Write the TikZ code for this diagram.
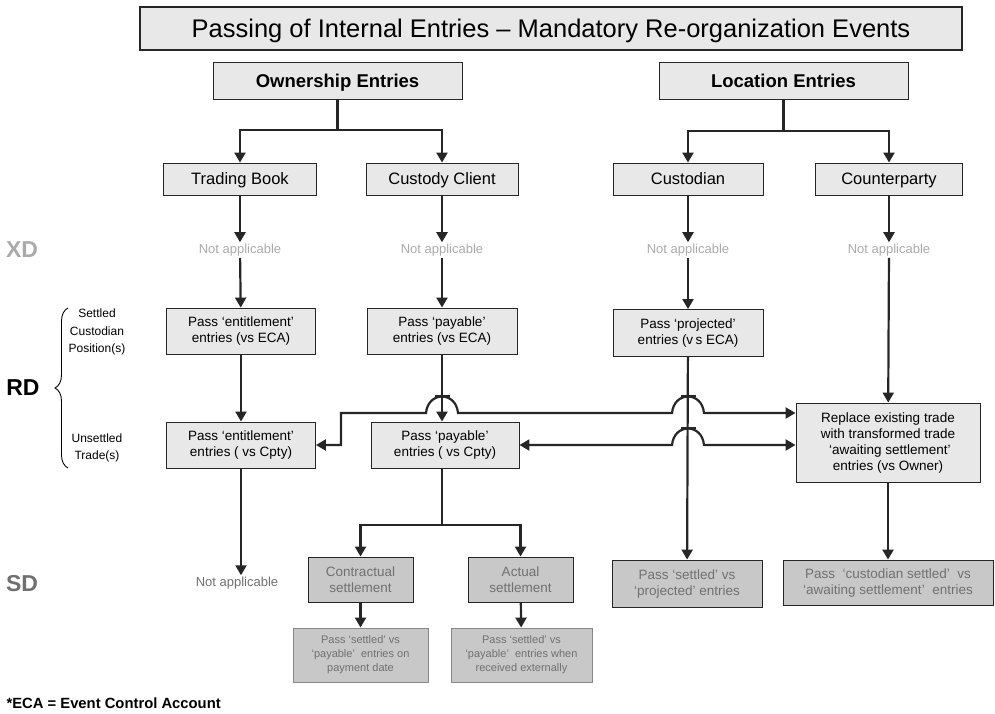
\documentclass[tikz,border=0pt]{standalone}
\usepackage{fontspec}
\setmainfont{Liberation Sans}
\usetikzlibrary{arrows.meta,decorations.pathreplacing}
\definecolor{boxgray}{RGB}{232,232,232}
\definecolor{sdgray}{RGB}{200,200,200}
\definecolor{txtgray}{RGB}{112,112,112}
\definecolor{nagray}{RGB}{170,170,170}
\definecolor{edgegray}{RGB}{135,135,135}
\tikzset{
  box/.style={draw=black!85,line width=0.9pt,fill=boxgray,align=center,inner sep=0pt,
    font=\fontsize{13.5}{16}\selectfont},
  headbox/.style={box,minimum width=249,minimum height=37,text height=14pt,text depth=1pt,
    font=\fontsize{18.5}{20}\selectfont\bfseries},
  leafbox/.style={box,minimum height=32,text height=12.5pt,text depth=1pt,
    font=\fontsize{16.5}{18}\selectfont},
  sdbox/.style={box,fill=sdgray,text=txtgray},
  subbox/.style={sdbox,draw=edgegray,font=\fontsize{11}{14}\selectfont},
  na/.style={inner sep=1.5pt,font=\fontsize{13}{15}\selectfont},
  lvl/.style={font=\fontsize{23}{26}\selectfont\bfseries},
  ln/.style={line width=2.2pt,draw=black!85},
  arr/.style={ln,-{Triangle[width=11pt,length=10pt]}},
  dblarr/.style={ln,{Triangle[width=11pt,length=10pt]}-{Triangle[width=11pt,length=10pt]}},
  bar/.style={line width=1.6pt,draw=black!85}
}
\begin{document}
\begin{tikzpicture}[x=1pt,y=-1pt]
\useasboundingbox (0,0) rectangle (995,713);

\node[draw=black!85,line width=2.4pt,fill=boxgray,minimum width=822,minimum height=43,inner sep=0pt,
  text height=19pt,text depth=1pt,font=\fontsize{25.5}{28}\selectfont] (title) at (551,28.5) {Passing of Internal Entries – Mandatory Re-organization Events};

\node[headbox] (own) at (337.5,80.5) {Ownership Entries};
\node[headbox] (loc) at (783.5,80.5) {Location Entries};

\node[leafbox,minimum width=153] (trading) at (240,179) {Trading Book};
\node[leafbox,minimum width=152] (custody) at (442,179) {Custody Client};
\node[leafbox,minimum width=150] (custodian) at (688,179) {Custodian};
\node[leafbox,minimum width=147] (cpty) at (889,179) {Counterparty};

\node[na,text=nagray] (naT) at (240,250) {Not applicable};
\node[na,text=nagray] (naC) at (442,250) {Not applicable};
\node[na,text=nagray] (naD) at (688,250) {Not applicable};
\node[na,text=nagray] (naP) at (889,250) {Not applicable};

\node[box,minimum width=149,minimum height=46] (entECA) at (241,331) {Pass ‘entitlement’\\entries (vs ECA)};
\node[box,minimum width=150,minimum height=46] (payECA) at (442,331) {Pass ‘payable’\\entries (vs ECA)};
\node[box,minimum width=150,minimum height=47] (projECA) at (688,333) {Pass ‘projected’\\entries (v\,s ECA)};

\node[box,minimum width=149,minimum height=46] (entCpty) at (241,445) {Pass ‘entitlement’\\entries ( vs Cpty)};
\node[box,minimum width=148,minimum height=46] (payCpty) at (445,445) {Pass ‘payable’\\entries ( vs Cpty)};
\node[box,minimum width=184,minimum height=79] (replace) at (888,442.5) {Replace existing trade\\with transformed trade\\\ ‘awaiting settlement’\\entries (vs Owner)};

\node[na,text=txtgray] (naS) at (237,583) {Not applicable};
\node[sdbox,minimum width=105,minimum height=45] (contr) at (360.5,579.5) {Contractual\\settlement};
\node[sdbox,minimum width=105,minimum height=45] (actual) at (520.5,579.5) {Actual\\settlement};
\node[subbox,minimum width=135,minimum height=54] (payDate) at (360.5,655) {Pass ‘settled’ vs\\‘payable’\ \ entries on\\payment date};
\node[subbox,minimum width=141,minimum height=54] (payExt) at (521.5,655) {Pass ‘settled’ vs\\‘payable’\ \ entries when\\received externally};
\node[sdbox,minimum width=150,minimum height=47] (settProj) at (687,583.5) {Pass ‘settled’ vs\\‘projected’ entries};
\node[sdbox,minimum width=210,minimum height=45] (custSett) at (888,582.5) {Pass\ \ ‘custodian settled’\ \ vs\\‘awaiting settlement’\ \ entries};

\node[lvl,text=nagray] (xd) at (22,250) {XD};
\node[lvl] (rd) at (23,388) {RD};
\node[lvl,text=txtgray] (sd) at (22,584) {SD};
\draw[line width=0.9pt,decorate,decoration={brace,amplitude=13pt}] (68,468) -- (68,308);
\node[align=center,font=\fontsize{12}{17.5}\selectfont] (settled) at (97,332) {Settled\\Custodian\\Position(s)};
\node[align=center,font=\fontsize{12}{17.5}\selectfont] (unsettled) at (97,448) {Unsettled\\Trade(s)};
\node[anchor=west,font=\fontsize{14.8}{16}\selectfont\bfseries] (note) at (3,703) {*ECA = Event Control Account};

\coordinate (ownsplit) at (337.5,130);
\coordinate (locsplit) at (783.5,131);
\draw[ln] (own) -- (ownsplit);
\draw[arr] (ownsplit) -| (trading);
\draw[arr] (ownsplit) -| (custody);
\draw[ln] (loc) -- (locsplit);
\draw[arr] (locsplit) -| (custodian);
\draw[arr] (locsplit) -| (cpty);

\draw[arr] (trading) -- (naT);
\draw[arr] (custody) -- (naC);
\draw[arr] (custodian) -- (naD);
\draw[arr] (cpty) -- (naP);
\draw[arr] (naT) -- (entECA);
\draw[arr] (naC) -- (payECA);
\draw[arr] (naD) -- (projECA);
\draw[arr] (naP) -- (replace);
\draw[arr] (entECA) -- (entCpty);
\draw[arr] (payECA.south) -- (payECA.south |- payCpty.north);
\draw[arr] (projECA) -- (settProj);
\draw[arr] (entCpty.south) -- (naS.north -| entCpty.south);
\draw[arr] (replace) -- (custSett);

\coordinate (paysplit) at (442,525);
\draw[ln] (payCpty.south -| paysplit) -- (paysplit);
\draw[arr] (paysplit) -| (contr);
\draw[arr] (paysplit) -| (actual);
\draw[arr] (contr) -- (payDate);
\draw[arr] (actual) -- (payExt);

\coordinate (jogtop) at (341,413);
\draw[dblarr] (entCpty.east) -| (jogtop) -- (426,413) .. controls (428,391) and (456,391) .. (458,413)
  -- (672,413) .. controls (674,391) and (702,391) .. (704,413) -- (replace.west |- jogtop);
\draw[dblarr] (payCpty.east) -- (672,445) .. controls (674,423) and (702,423) .. (704,445) -- (replace.west |- payCpty.east);
\draw[bar] (435,396) -- (450,396);
\draw[bar] (681,396) -- (696,396);
\draw[bar] (681,428) -- (696,428);
\end{tikzpicture}
\end{document}
